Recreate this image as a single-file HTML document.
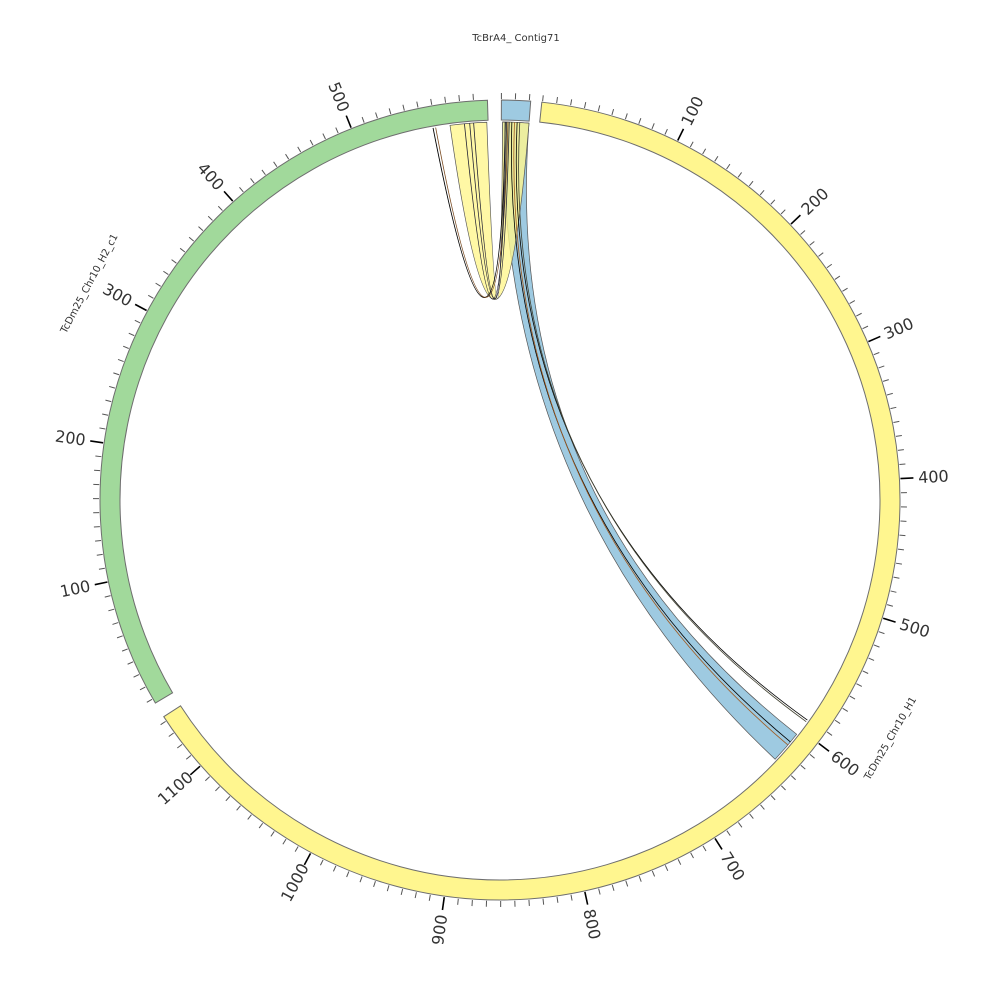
<!DOCTYPE html>
<html><head><meta charset="utf-8"><style>
html,body{margin:0;padding:0;background:#fff;}
svg{display:block;font-family:"DejaVu Sans","Liberation Sans",sans-serif;}
</style></head><body>
<svg id="s" width="1000" height="1000" viewBox="0 0 1000 1000" xmlns="http://www.w3.org/2000/svg"></svg>
<script>
const cx=500,cy=500,R0=380,R1=400,RR=378;
const s=document.getElementById('s');
let h='';
function P(r,t){const a=t*Math.PI/180;return [cx+r*Math.sin(a),cy-r*Math.cos(a)];}
function f(p){return p[0].toFixed(2)+','+p[1].toFixed(2);}
function arcSeg(a0,a1,col){
 const large=(a1-a0)>180?1:0;
 h+=`<path d="M${f(P(R1,a0))} A${R1},${R1} 0 ${large} 1 ${f(P(R1,a1))} L${f(P(R0,a1))} A${R0},${R0} 0 ${large} 0 ${f(P(R0,a0))} Z" fill="${col}" stroke="#6e6e6e" stroke-width="1"/>`;
}
function ribbon(a0,a1,b0,b1,col,op,ctl){
 const c=ctl||`${cx},${cy}`;
 h+=`<path d="M${f(P(RR,a0))} A${RR},${RR} 0 0 1 ${f(P(RR,a1))} Q${c} ${f(P(RR,b0))} A${RR},${RR} 0 0 1 ${f(P(RR,b1))} Q${c} ${f(P(RR,a0))} Z" fill="${col}" fill-opacity="${op}" stroke="#555" stroke-width="0.7"/>`;
}
function line(a,b,col,w,ctl){
 const c=ctl||`${cx},${cy}`;
 h+=`<path d="M${f(P(RR,a))} Q${c} ${f(P(RR,b))}" fill="none" stroke="${col}" stroke-width="${w}"/>`;
}
function ticks(start,scale,minU,maxU,labels){
 for(let u=0;u<=maxU;u+=10){
  if(u<minU) continue;
  const t=start+u*scale;
  const major=u%100===0&&u>0;
  const L=major?13:6;
  const a=P(R1+1,t),b=P(R1+1+L,t);
  h+=`<line x1="${a[0].toFixed(2)}" y1="${a[1].toFixed(2)}" x2="${b[0].toFixed(2)}" y2="${b[1].toFixed(2)}" stroke="${major?'#000':'#555'}" stroke-width="${major?1.6:1}"/>`;
  if(major&&labels){
   const p=P(R1+34,t);
   let rot=t-90; if(t%360>180) rot=t-270;
   h+=`<text x="${p[0].toFixed(1)}" y="${p[1].toFixed(1)}" font-size="16" fill="#333" text-anchor="middle" dominant-baseline="central" transform="rotate(${rot.toFixed(1)} ${p[0].toFixed(1)} ${p[1].toFixed(1)})">${u}</text>`;
  }
 }
}
arcSeg(0.2,4.4,'#9ecae1');
arcSeg(6.0,237.2,'#fff68f');
arcSeg(239.5,358.2,'#a1d99b');
ticks(0.2,0.2,0,20,false);
ticks(6.1,0.2021,0,1140,true);
ticks(238.2,0.2,10,590,true);
ribbon(0.4,4.4,128.3,133.3,'#9ecae1',1);
ribbon(352.4,358.0,0.4,4.4,'#fff68f',0.8,'500,475');
line(349.8,0.8,'#000',0.9,'500,470');
line(350.2,1.2,'#7a4a20',0.8,'500,470');
line(354.6,1.0,'#223',0.8,'500,475');
line(355.4,1.4,'#223',0.8,'500,475');
line(356.0,0.8,'#223',0.8,'500,475');
line(1.8,129.8,'#000',0.8);
line(2.2,130.4,'#a05a20',0.8);
line(2.6,125.6,'#000',0.8);
line(3.0,125.9,'#443',0.8);
h+=`<text x="516" y="41" font-size="10" fill="#333" text-anchor="middle">TcBrA4_ Contig71</text>`;
h+=`<text x="92" y="285" font-size="10" fill="#333" text-anchor="middle" transform="rotate(-62 92 285)">TcDm25_Chr10_H2_c1</text>`;
h+=`<text x="893" y="740" font-size="10" fill="#333" text-anchor="middle" transform="rotate(-60 893 740)">TcDm25_Chr10_H1</text>`;
s.innerHTML=h;
</script>
</body></html>
